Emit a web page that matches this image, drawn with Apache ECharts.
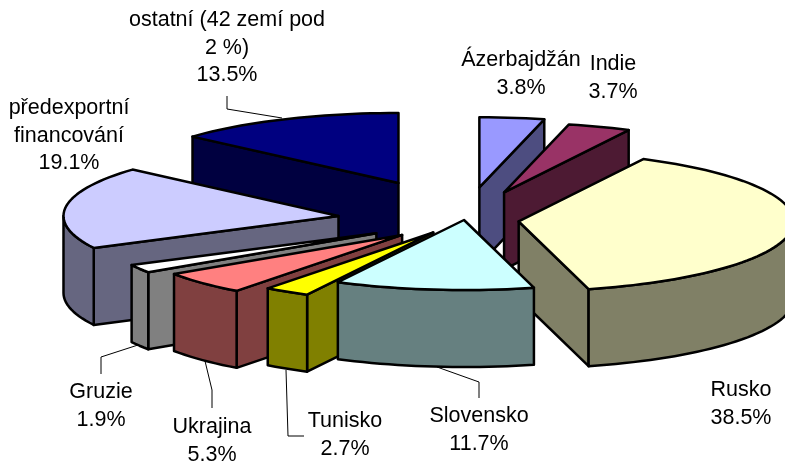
<!DOCTYPE html>
<html>
<head>
<meta charset="utf-8">
<style>
  html, body { margin: 0; padding: 0; background: #fff; }
  #chart { width: 785px; height: 462px; }
</style>
<script src="https://cdn.jsdelivr.net/npm/echarts@6/dist/echarts.min.js"></script>
</head>
<body>
<div id="chart"></div>
<script>
// data, in Excel order (clockwise from 12 o'clock)
const names = ['Ázerbajdžán', 'Indie', 'Rusko', 'Slovensko', 'Tunisko', 'Ukrajina', 'Gruzie', 'předexportní\nfinancování', 'ostatní (42 zemí pod\n2 %)'];
const shares = [3.8, 3.7, 38.5, 11.7, 2.7, 5.3, 1.9, 19.1, 13.5];
// how far each slice is pulled out, as a fraction of the radius
const explode = [0.47, 0.42, 0.2, 0, 0.21, 0.31, 0.37, 0.46, 0.58];
const topColors = ['#9999FF', '#993366', '#FFFFCC', '#CCFFFF', '#FFFF00', '#FF8080', '#FFFFFF', '#CCCCFF', '#000080'];
const wallColors = ['#4D4D80', '#4D1A33', '#808066', '#668080', '#808000', '#804040', '#808080', '#666680', '#000040'];
// back to front
const drawOrder = [8, 0, 1, 2, 7, 6, 5, 4, 3];

// layout
const center = [464, 220];
const rx = 275;
const ry = 70;
const depth = 77;
const labelCenters = [[521, 74], [613, 78], [741, 404], [479, 430], [345, 435], [212, 441], [101, 406], [69, 136], [227, 48]];
const leaders = [
  [[227, 96], [227, 109], [282, 118]],
  [[101, 374], [101, 357], [138, 345]],
  [[212, 408], [212, 390], [205, 361]],
  [[304, 436], [288, 436], [286, 370]],
  [[479, 398], [479, 382], [437, 367]]
];

const total = shares.reduce((a, b) => a + b, 0);
const slices = [];
let acc = 0;
shares.forEach((v, i) => {
  slices.push({ from: acc / total * 360, to: (acc + v) / total * 360, i: i });
  acc += v;
});

function rad(d) { return d * Math.PI / 180; }

function rimPoint(apex, deg) {
  return [apex[0] + rx * Math.sin(rad(deg)), apex[1] - ry * Math.cos(rad(deg))];
}

function down(p) { return [p[0], p[1] + depth]; }

function arcPoints(apex, from, to) {
  const pts = [];
  const n = Math.max(2, Math.ceil((to - from) / 2));
  for (let k = 0; k <= n; k++) {
    pts.push(rimPoint(apex, from + (to - from) * k / n));
  }
  return pts;
}

function face(points, fill) {
  return {
    type: 'polygon',
    shape: { points: points },
    style: { fill: fill, stroke: '#000', lineWidth: 2.5, lineJoin: 'round' }
  };
}

function renderSlice(params, api) {
  const s = slices[api.value(0)];
  const mid = (s.from + s.to) / 2;
  const e = explode[s.i];
  const apex = [center[0] + e * rx * Math.sin(rad(mid)), center[1] - e * ry * Math.cos(rad(mid))];
  const wall = wallColors[s.i];
  const children = [];

  // cut faces, only when they look towards the viewer
  if (Math.sin(rad(s.from)) < -0.001) {
    const p = rimPoint(apex, s.from);
    children.push(face([apex, p, down(p), down(apex)], wall));
  }
  if (Math.sin(rad(s.to)) > 0.001) {
    const p = rimPoint(apex, s.to);
    children.push(face([apex, p, down(p), down(apex)], wall));
  }
  // outer wall, front half only
  const a = Math.max(s.from, 90);
  const b = Math.min(s.to, 270);
  if (b > a) {
    const arc = arcPoints(apex, a, b);
    children.push(face(arc.concat(arc.map(down).reverse()), wall));
  }
  // top
  children.push(face([apex].concat(arcPoints(apex, s.from, s.to)), topColors[s.i]));
  return { type: 'group', children: children };
}

const labelElements = names.map((name, i) => ({
  type: 'text',
  x: labelCenters[i][0],
  y: labelCenters[i][1],
  silent: true,
  style: {
    text: name + '\n' + shares[i].toFixed(1) + '%',
    fontFamily: '"Liberation Sans", Arial, sans-serif',
    fontSize: 21.5,
    lineHeight: 27.5,
    fill: '#000',
    align: 'center',
    verticalAlign: 'middle'
  }
}));

const leaderElements = leaders.map(pts => ({
  type: 'polyline',
  silent: true,
  shape: { points: pts },
  style: { stroke: '#000', lineWidth: 1, fill: null }
}));

const myChart = echarts.init(document.getElementById('chart'), null, { renderer: 'canvas' });
myChart.setOption({
  animation: false,
  backgroundColor: '#fff',
  series: [{
    type: 'custom',
    coordinateSystem: 'none',
    silent: true,
    clip: false,
    renderItem: renderSlice,
    data: drawOrder.map(i => [i])
  }],
  graphic: { elements: leaderElements.concat(labelElements) }
});
</script>
</body>
</html>
